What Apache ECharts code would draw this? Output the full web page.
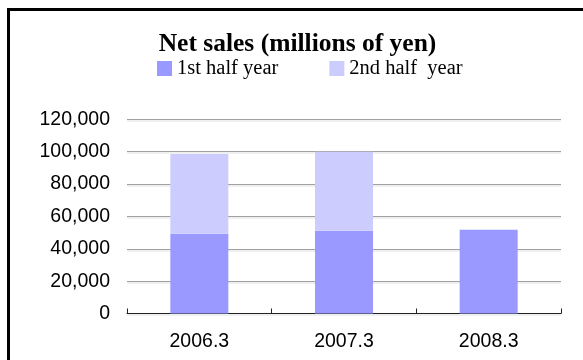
<!DOCTYPE html>
<html>
<head>
<meta charset="utf-8">
<script src="https://cdn.jsdelivr.net/npm/echarts@6/dist/echarts.min.js"></script>
<style>
html,body{margin:0;padding:0;background:#fff;}
#chart{width:583px;height:360px;}
</style>
</head>
<body>
<div id="chart"></div>
<script>
var categories = ['2006.3', '2007.3', '2008.3'];
var firstHalf = [49300, 51200, 51800];
var secondHalf = [49300, 48800, null];
var seriesNames = ['1st half year', '2nd half  year'];
var titleText = 'Net sales (millions of yen)';
var yMin = 0, yMax = 120000, yStep = 20000;

var chart = echarts.init(document.getElementById('chart'), null, {renderer: 'canvas'});
chart.setOption({
  animation: false,
  backgroundColor: '#fff',
  graphic: [{
    type: 'rect',
    shape: {x: 8.5, y: 9.5, width: 700, height: 500},
    style: {fill: 'none', stroke: '#000', lineWidth: 3},
    silent: true
  }],
  title: {
    text: titleText,
    left: 297.5, top: 31,
    padding: 0,
    textAlign: 'center',
    textStyle: {fontFamily: 'Liberation Serif', fontWeight: 'bold', fontSize: 25.5, color: '#000'}
  },
  legend: {
    left: 157, top: 58,
    padding: 0,
    itemWidth: 15, itemHeight: 15, itemGap: 51,
    icon: 'rect',
    textStyle: {fontFamily: 'Liberation Serif', fontSize: 20.5, color: '#000', padding: [2, 0, 0, 0]},
    data: seriesNames
  },
  grid: {left: 127, right: 22, top: 119.3, bottom: 46.5, containLabel: false},
  xAxis: {
    type: 'category',
    data: categories,
    axisLine: {lineStyle: {color: '#222', width: 1}},
    axisTick: {show: true, inside: true, length: 5, lineStyle: {color: '#222'}},
    axisLabel: {fontFamily: 'Liberation Sans', fontSize: 19.5, color: '#000', margin: 18}
  },
  yAxis: {
    type: 'value',
    min: yMin, max: yMax, interval: yStep,
    axisLine: {show: false},
    axisTick: {show: false},
    axisLabel: {
      fontFamily: 'Liberation Sans', fontSize: 19.5, color: '#000', margin: 17,
      formatter: function (v) { return v.toLocaleString('en-US'); }
    },
    splitLine: {lineStyle: {color: '#a0a0a0', width: 1, shadowColor: 'rgba(0,0,0,0.12)', shadowOffsetY: 1.5, shadowBlur: 0}}
  },
  series: [
    {name: seriesNames[0], type: 'bar', stack: 'total', data: firstHalf, barWidth: 58,
     itemStyle: {color: '#9999ff'}},
    {name: seriesNames[1], type: 'bar', stack: 'total', data: secondHalf, barWidth: 58,
     itemStyle: {color: '#ccccff'}}
  ]
});
</script>
</body>
</html>
